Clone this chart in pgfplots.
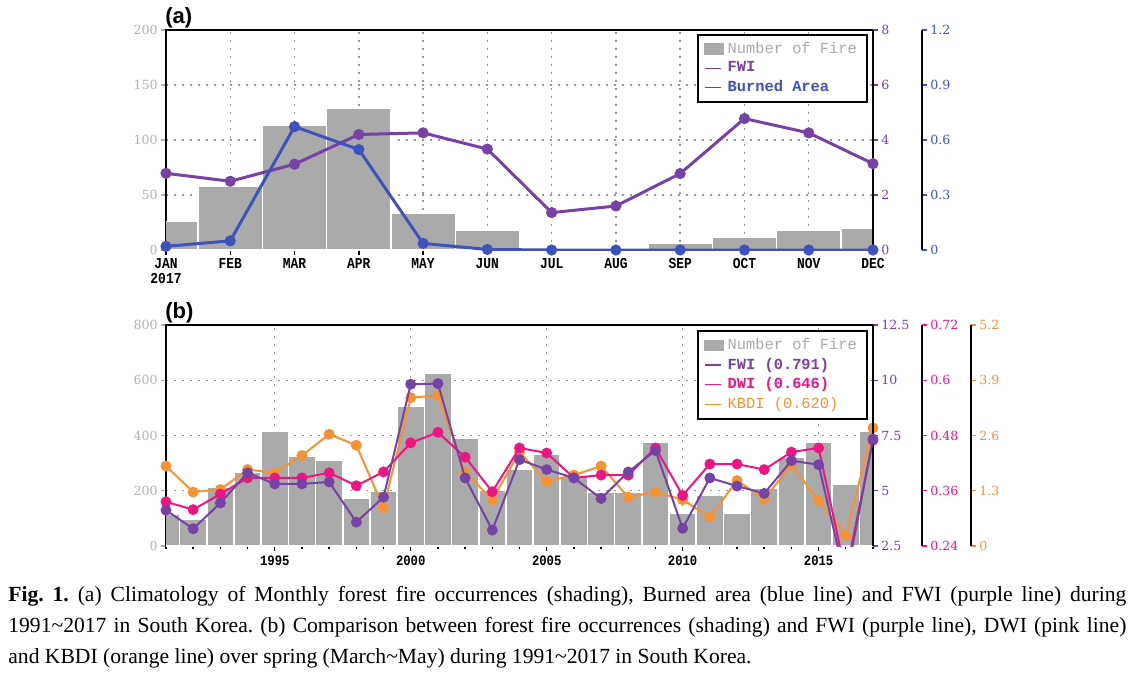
\documentclass[border=0pt]{standalone}
\usepackage{pgfplots}
\pgfplotsset{compat=1.18}
\usepackage{fontspec}
\setmainfont{Liberation Serif}
\newfontfamily\numfont{DejaVu Serif}
\newfontfamily\monfont[FakeStretch=0.85]{Liberation Mono}
\newfontfamily\legfont{Liberation Mono}
\newfontfamily\panfont{Liberation Sans}
\definecolor{barc}{RGB}{170,170,170}
\definecolor{axgray}{RGB}{178,178,178}
\definecolor{fwic}{RGB}{118,66,165}
\definecolor{burnc}{RGB}{62,82,190}
\definecolor{dwic}{RGB}{236,22,130}
\definecolor{kbdic}{RGB}{245,146,52}
\newcommand{\numsize}{\fontsize{6.3}{7}\selectfont}
\pgfplotsset{
  base/.style={scale only axis, width=353.5pt, anchor=south west,
    tick align=outside, major tick length=2.5pt, minor tick length=1.5pt,
    axis line style={line width=1.3pt, black},
    yticklabel style={font=\numfont\numsize, inner sep=1.5pt}},
  rightax/.style={axis x line=none, axis y line*=right,
    axis line style={line width=1.3pt, black}, tick align=outside,
    major tick length=2.5pt,
    yticklabel style={font=\numfont\numsize, text=#1, inner sep=1.5pt},
    ytick style={draw=#1, line width=0.7pt}},
  gridst/.style={grid=major, grid style={draw=gray!80, line width=0.7pt, dash pattern=on 0.8pt off 3.2pt}},
  legst/.style={legend style={at={(0.993,#1)}, anchor=north east, draw=black, line width=1.1pt, fill=white,
    font=\legfont\fontsize{7.7}{8.3}\selectfont, inner xsep=3pt, inner ysep=1.5pt, row sep=-1.2pt},
    legend cell align=left},
  barimg/.style={legend image code/.code={\fill[barc] (0pt,-2.3pt) rectangle (8.5pt,2.3pt);}},
  lineimg/.style={legend image code/.code={\draw[#1, line width=0.7pt] (0pt,0pt) -- (8pt,0pt);}},
}
\begin{document}
\begin{tikzpicture}
\path[use as bounding box] (0,0) rectangle (567pt,-338pt);
% ---------------- (a) ----------------
\begin{axis}[base, height=110pt, at={(83pt,-125pt)},
  xmin=1, xmax=12, ymin=0, ymax=200, gridst,
  xtick={1,...,12}, xtick pos=bottom, ytick pos=left,
  xticklabels={{JAN\\2017},FEB,MAR,APR,MAY,JUN,JUL,AUG,SEP,OCT,NOV,DEC},
  xticklabel style={font=\monfont\bfseries\fontsize{7.6}{7.6}\selectfont, align=center, inner sep=1.5pt},
  ytick={0,50,100,150,200}, yticklabels={0,50,100,150,200},
  yticklabel style={text=axgray}, ytick style={draw=axgray, line width=0.7pt},
  xtick style={draw=black, line width=0.7pt}]
\addplot[ybar, bar width=1, bar shift=0pt, fill=barc, draw=white, line width=0.7pt] coordinates {
(1,26) (2,58) (3,113) (4,129) (5,33) (6,18) (9,6) (10,12) (11,18) (12,20)};
\end{axis}
\begin{axis}[base, height=110pt, at={(83pt,-125pt)}, rightax=fwic,
  xmin=1, xmax=12, ymin=0, ymax=8,
  ytick={0,2,4,6,8}, yticklabels={0,2,4,6,8}]
\addplot[fwic, line width=1.5pt, mark=*, mark size=2pt] coordinates {
(1,2.79) (2,2.50) (3,3.12) (4,4.20) (5,4.26) (6,3.67) (7,1.36) (8,1.60) (9,2.78) (10,4.78) (11,4.26) (12,3.14)};
\end{axis}
\begin{axis}[base, height=110pt, at={(83pt,-125pt)}, hide axis,
  xmin=1, xmax=12, ymin=0, ymax=1.2, legst=0.982]
\addplot[burnc, line width=1.5pt, mark=*, mark size=2pt, forget plot] coordinates {
(1,0.020) (2,0.050) (3,0.673) (4,0.548) (5,0.036) (6,0.003) (7,0) (8,0) (9,0) (10,0) (11,0) (12,0)};
\addlegendimage{barimg}\addlegendentry{\textcolor{barc}{Number of Fire}}
\addlegendimage{lineimg=fwic}\addlegendentry{\textcolor{fwic}{\bfseries FWI}}
\addlegendimage{lineimg=burnc}\addlegendentry{\textcolor{burnc}{\bfseries Burned Area}}
\end{axis}
\begin{axis}[scale only axis, width=1pt, height=110pt, at={(461pt,-125pt)}, anchor=south east,
  rightax=burnc, xmin=0, xmax=1, ymin=0, ymax=1.2,
  ytick={0,0.3,0.6,0.9,1.2}, yticklabels={0,0.3,0.6,0.9,1.2}]
\addplot[draw=none] coordinates {(0,0.5)};
\end{axis}
\node[anchor=base west, inner sep=0pt, font=\panfont\bfseries\fontsize{11}{12}\selectfont] at (82.5pt,-11.8pt) {(a)};
% ---------------- (b) ----------------
\begin{axis}[base, height=110.5pt, at={(83pt,-273pt)},
  xmin=1991, xmax=2017, ymin=0, ymax=800, gridst,
  xtick={1995,2000,2005,2010,2015}, xticklabels={1995,2000,2005,2010,2015},
  minor xtick={1991,...,2017},
  xtick pos=bottom, ytick pos=left,
  xticklabel style={font=\monfont\bfseries\fontsize{7.2}{7.2}\selectfont, inner sep=2pt},
  ytick={0,200,400,600,800}, yticklabels={0,200,400,600,800},
  yticklabel style={text=axgray}, ytick style={draw=axgray, line width=0.7pt},
  xtick style={draw=black, line width=0.7pt}]
\addplot[ybar, bar width=1, bar shift=0pt, fill=barc, draw=white, line width=0.8pt] coordinates {
(1991,115) (1992,96) (1993,214) (1994,268) (1995,415) (1996,325) (1997,312) (1998,173) (1999,197)
(2000,505) (2001,626) (2002,391) (2003,202) (2004,277) (2005,333) (2006,253) (2007,193) (2008,195)
(2009,377) (2010,120) (2011,184) (2012,120) (2013,208) (2014,320) (2015,377) (2016,224) (2017,417)};
\end{axis}
\begin{axis}[base, height=110.5pt, at={(83pt,-273pt)}, hide axis,
  xmin=1991, xmax=2017, ymin=0, ymax=5.2]
\addplot[kbdic, line width=1pt, mark=*, mark size=2.2pt] coordinates {
(1991,1.88) (1992,1.27) (1993,1.33) (1994,1.80) (1995,1.72) (1996,2.13) (1997,2.63) (1998,2.37) (1999,0.90)
(2000,3.49) (2001,3.54) (2002,1.74) (2003,1.09) (2004,2.21) (2005,1.52) (2006,1.67) (2007,1.88) (2008,1.15)
(2009,1.27) (2010,1.09) (2011,0.68) (2012,1.54) (2013,1.11) (2014,1.90) (2015,1.07) (2016,0.25) (2017,2.78)};
\end{axis}
\begin{axis}[base, height=110.5pt, at={(83pt,-273pt)}, hide axis,
  xmin=1991, xmax=2017, ymin=0.24, ymax=0.72]
\addplot[dwic, line width=1pt, mark=*, mark size=2.2pt] coordinates {
(1991,0.336) (1992,0.319) (1993,0.353) (1994,0.388) (1995,0.388) (1996,0.388) (1997,0.399) (1998,0.371) (1999,0.401)
(2000,0.464) (2001,0.487) (2002,0.433) (2003,0.358) (2004,0.453) (2005,0.442) (2006,0.388) (2007,0.394) (2008,0.394)
(2009,0.453) (2010,0.350) (2011,0.418) (2012,0.418) (2013,0.406) (2014,0.444) (2015,0.453) (2016,0.18) (2017,0.470)};
\end{axis}
\begin{axis}[base, height=110.5pt, at={(83pt,-273pt)}, rightax=fwic,
  xmin=1991, xmax=2017, ymin=2.5, ymax=12.5, legst=0.977,
  ytick={2.5,5,7.5,10,12.5}, yticklabels={2.5,5,7.5,10,12.5}]
\addplot[fwic, line width=1pt, mark=*, mark size=2.2pt, forget plot] coordinates {
(1991,4.12) (1992,3.28) (1993,4.45) (1994,5.81) (1995,5.31) (1996,5.31) (1997,5.40) (1998,3.58) (1999,4.71)
(2000,9.82) (2001,9.85) (2002,5.58) (2003,3.22) (2004,6.41) (2005,5.96) (2006,5.58) (2007,4.65) (2008,5.85)
(2009,6.82) (2010,3.30) (2011,5.58) (2012,5.21) (2013,4.88) (2014,6.36) (2015,6.18) (2016,0.90) (2017,7.34)};
\addlegendimage{barimg}\addlegendentry{\textcolor{barc}{Number of Fire}}
\addlegendimage{lineimg=fwic}\addlegendentry{\textcolor{fwic}{\bfseries FWI (0.791)}}
\addlegendimage{lineimg=dwic}\addlegendentry{\textcolor{dwic}{\bfseries DWI (0.646)}}
\addlegendimage{lineimg=kbdic}\addlegendentry{\textcolor{kbdic}{KBDI (0.620)}}
\end{axis}
\begin{axis}[scale only axis, width=1pt, height=110.5pt, at={(461pt,-273pt)}, anchor=south east,
  rightax=dwic, xmin=0, xmax=1, ymin=0.24, ymax=0.72,
  ytick={0.24,0.36,0.48,0.6,0.72}, yticklabels={0.24,0.36,0.48,0.6,0.72}]
\addplot[draw=none] coordinates {(0,0.5)};
\end{axis}
\begin{axis}[scale only axis, width=1pt, height=110.5pt, at={(485.5pt,-273pt)}, anchor=south east,
  rightax=kbdic, xmin=0, xmax=1, ymin=0, ymax=5.2,
  ytick={0,1.3,2.6,3.9,5.2}, yticklabels={0,1.3,2.6,3.9,5.2}]
\addplot[draw=none] coordinates {(0,1)};
\end{axis}
\node[anchor=base west, inner sep=0pt, font=\panfont\bfseries\fontsize{11}{12}\selectfont] at (82.5pt,-159pt) {(b)};
% ---------------- caption ----------------
\node[anchor=north west, inner sep=0pt, text width=559pt, align=justify, font=\fontsize{10.8}{15.5}\selectfont] at (4pt,-289.5pt)
{\frenchspacing\strut\textbf{Fig. 1.} (a) Climatology of Monthly forest fire occurrences (shading), Burned area (blue line) and FWI (purple line) during\linebreak
1991\textasciitilde 2017 in South Korea. (b) Comparison between forest fire occurrences (shading) and FWI (purple line), DWI (pink line)\linebreak
and KBDI (orange line) over spring (March\textasciitilde May) during 1991\textasciitilde 2017 in South Korea.};
\end{tikzpicture}
\end{document}
